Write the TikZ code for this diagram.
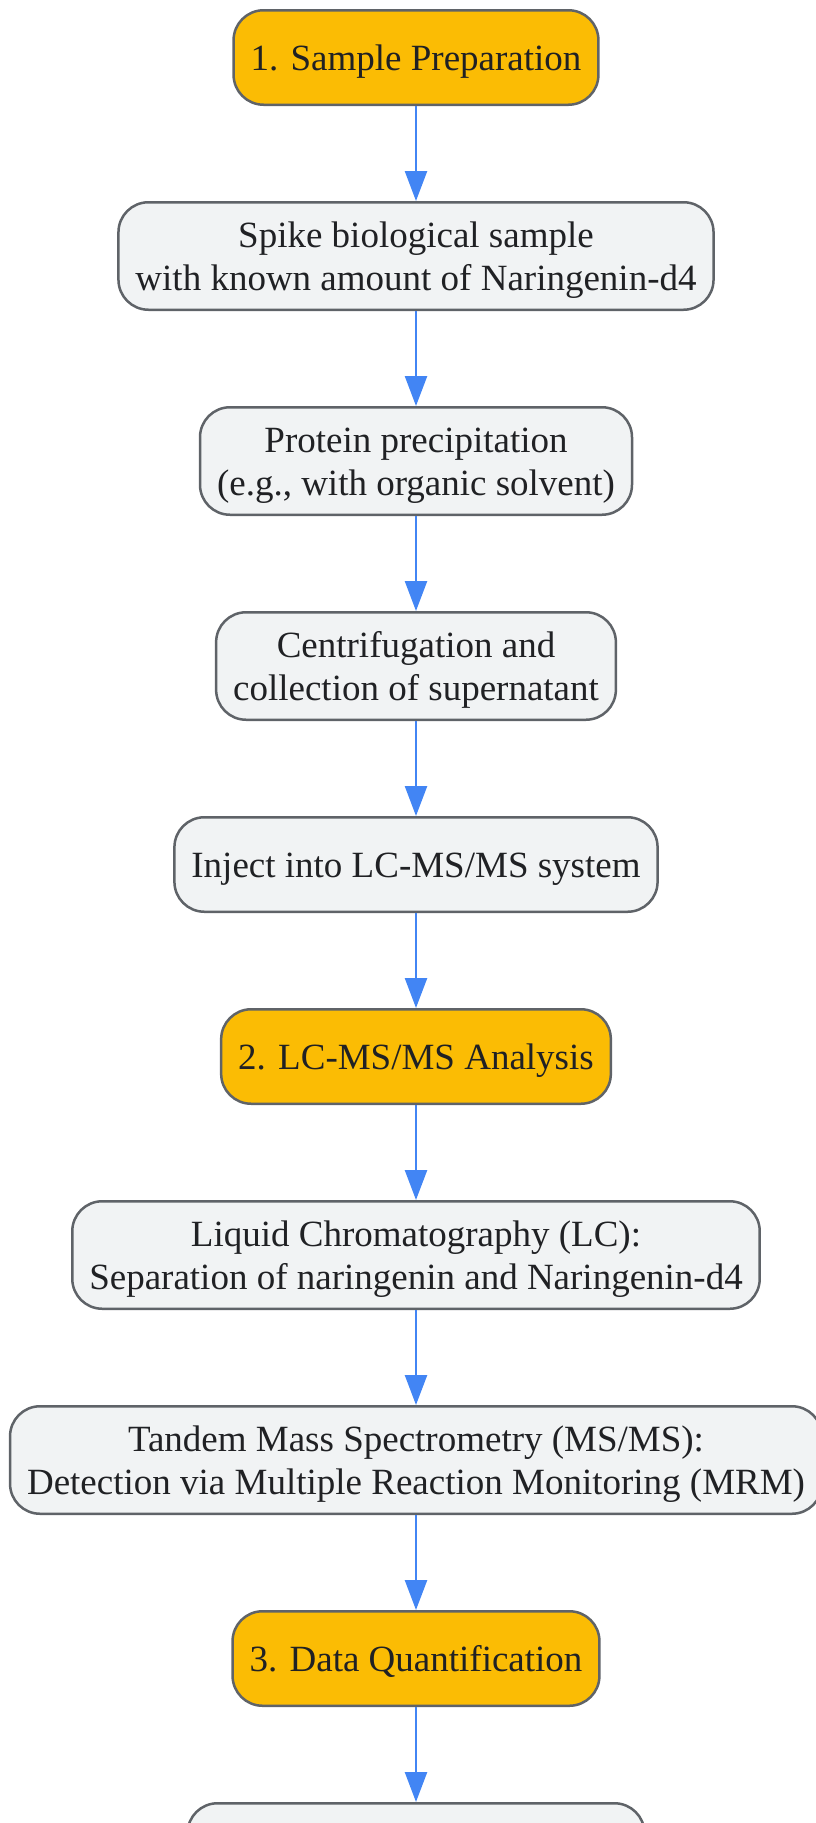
\documentclass[tikz,border=0pt]{standalone}
\usepackage{fontspec}
\setmainfont{Liberation Serif}
\usepackage{tikz}
\usetikzlibrary{positioning,arrows.meta}
\definecolor{phasefill}{HTML}{FBBC04}
\definecolor{stepfill}{HTML}{F1F3F4}
\definecolor{boxline}{HTML}{5F6368}
\definecolor{flowblue}{HTML}{4285F4}
\definecolor{inktext}{HTML}{202124}
\tikzset{%
  font=\fontsize{37}{43}\selectfont,
  >={Triangle[width=22pt,length=30pt]},
  phase/.style   = {rectangle, draw=boxline, line width=2.5pt, fill=phasefill, text=inktext,
                    rounded corners=30pt, inner xsep=17pt, minimum height=94.5pt, align=center,
                    text height=30pt, text depth=4pt},
  stepbox/.style = {phase, fill=stepfill, minimum height=107.5pt, text height=73pt, text depth=3.5pt},
  line/.style    = {draw, flowblue, line width=2.5pt, ->}
}
\begin{document}
\begin{tikzpicture}[node distance=95pt]
  \useasboundingbox (0,0) rectangle (816pt,-1823pt);
  % phase 1
  \node[phase] (prep) at (416pt,-57.5pt) {1. Sample Preparation};
  \node[stepbox, below=of prep] (spike) {Spike biological sample\\with known amount of Naringenin-d4};
  \node[stepbox, below=of spike] (precip) {Protein precipitation\\(e.g., with organic solvent)};
  \node[stepbox, below=of precip] (centri) {Centrifugation and\\collection of supernatant};
  \node[phase, fill=stepfill, below=of centri] (inject) {Inject into LC-MS/MS system};
  % phase 2
  \node[phase, below=of inject] (analysis) {2. LC-MS/MS Analysis};
  \node[stepbox, below=of analysis] (lc) {Liquid Chromatography (LC):\\Separation of naringenin and Naringenin-d4};
  \node[stepbox, below=of lc] (msms) {Tandem Mass Spectrometry (MS/MS):\\Detection via Multiple Reaction Monitoring (MRM)};
  % phase 3
  \node[phase, below=of msms] (quant) {3. Data Quantification};
  \node[stepbox, below=of quant, minimum width=457pt] (next) {};

  \path[line] (prep) -- (spike);
  \path[line] (spike) -- (precip);
  \path[line] (precip) -- (centri);
  \path[line] (centri) -- (inject);
  \path[line] (inject) -- (analysis);
  \path[line] (analysis) -- (lc);
  \path[line] (lc) -- (msms);
  \path[line] (msms) -- (quant);
  \path[line] (quant) -- (next);
\end{tikzpicture}
\end{document}
